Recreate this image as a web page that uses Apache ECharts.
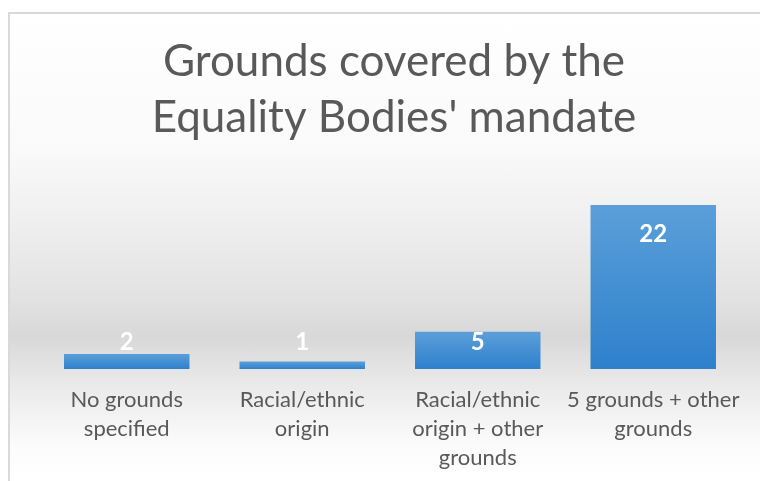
<!DOCTYPE html>
<html>
<head>
<meta charset="utf-8">
<script src="https://cdn.jsdelivr.net/npm/echarts@6/dist/echarts.min.js"></script>
<style>
  html, body { margin: 0; padding: 0; background: #ffffff; }
  #frame {
    position: absolute; left: 8px; top: 12px; width: 750px; height: 467px;
    border-left: 2px solid #d9d9d9; border-top: 2px solid #d9d9d9;
    background: linear-gradient(to bottom,
      #ffffff 0%, #fafafa 28%, #f0f0f0 43%, #e2e2e2 61%,
      #d8d8d8 69%, #e9e9e9 79%, #fbfbfb 92%, #ffffff 100%);
  }
  #chart { position: absolute; left: 0; top: 0; width: 760px; height: 481px; }
</style>
</head>
<body>
<div id="frame"></div>
<div id="chart"></div>
<script>
// Equality bodies by the grounds their mandate covers
const titleText = "Grounds covered by the\nEquality Bodies' mandate";
const categories = [
  "No grounds\nspecified",
  "Racial/ethnic\norigin",
  "Racial/ethnic\norigin + other\ngrounds",
  "5 grounds + other\ngrounds"
];
const bodyCounts = [2, 1, 5, 22];

const chart = echarts.init(document.getElementById('chart'), null, { renderer: 'canvas' });

const barFill = new echarts.graphic.LinearGradient(0, 0, 0, 1, [
  { offset: 0, color: '#5b9fd9' },
  { offset: 1, color: '#2e80cc' }
]);

// tall bars carry their label inside the top; short ones share a common baseline
const barData = bodyCounts.map(v => ({
  value: v,
  label: v >= 10
    ? { position: 'insideTop', distance: 17 }
    : { position: 'insideBottom', distance: 15 }
}));

chart.setOption({
  animation: false,
  title: {
    text: titleText,
    left: 389,
    top: 29,
    textAlign: 'center',
    textStyle: {
      fontFamily: 'Lato',
      fontSize: 44,
      fontWeight: 'normal',
      color: '#595959',
      lineHeight: 56
    }
  },
  grid: { left: 39, right: 19, top: 205, bottom: 112 },
  xAxis: {
    type: 'category',
    data: categories,
    axisLine: { show: false },
    axisTick: { show: false },
    axisLabel: {
      margin: 16,
      interval: 0,
      fontFamily: 'Lato',
      fontSize: 22,
      lineHeight: 29,
      color: '#595959'
    }
  },
  yAxis: {
    type: 'value',
    min: 0,
    max: 22,
    show: false,
    splitLine: { show: false }
  },
  series: [{
    type: 'bar',
    data: barData,
    barCategoryGap: '28.5%',
    itemStyle: { color: barFill },
    label: {
      show: true,
      color: '#ffffff',
      fontFamily: 'Lato',
      fontWeight: 'bold',
      fontSize: 24
    }
  }]
});
</script>
</body>
</html>
